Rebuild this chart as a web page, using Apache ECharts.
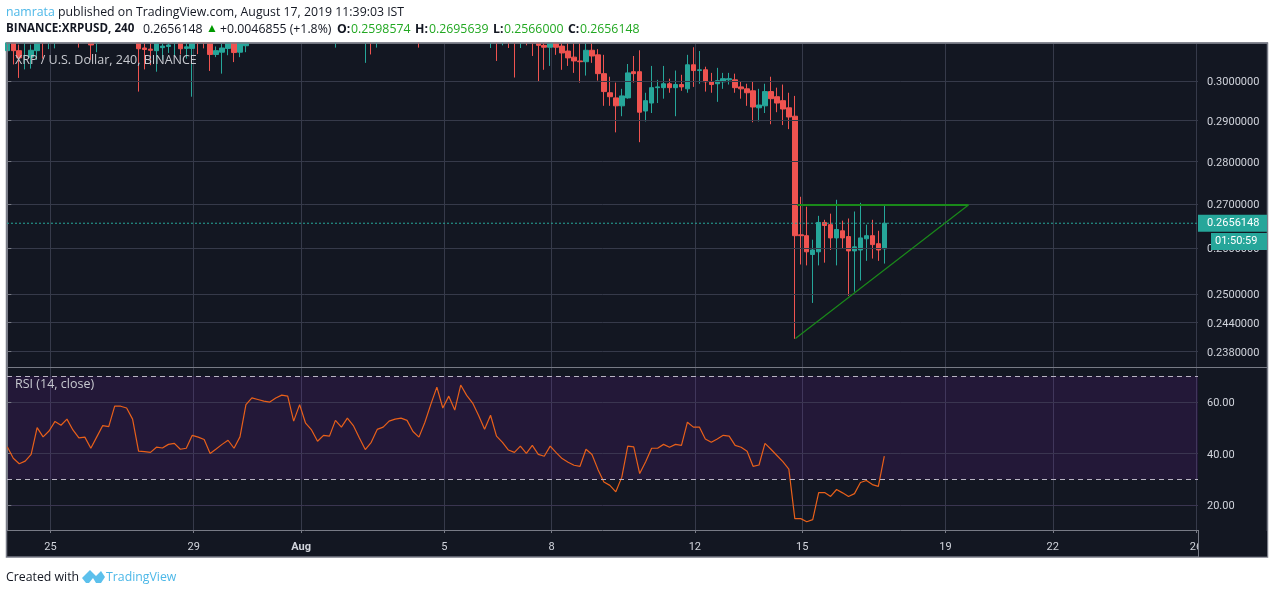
<!DOCTYPE html>
<html><head><meta charset="utf-8">
<style>html,body{margin:0;padding:0;background:#fff}#c{width:1274px;height:594px}</style>
<script src="https://cdn.jsdelivr.net/npm/echarts@6/dist/echarts.min.js"></script>
</head><body><div id="c"></div>
<script>
const opens=[.3079,.3105,.3079,.3105,.3062,.3079,.3110,.3110,.3112,.3118,.3114,.3120,.3116,.3110,.3106,.3100,.3108,.3112,.3118,.3124,.3120,.3117,
.3105,.3086,.3083,.3079,.3087,.3090,.3100,.3105,.3085,.3085,.3108,.3108,.3105,.3069,.3075,.3085,.3105,.3075,.3092,
.3112,.3116,.3122,.3118,.3125,.3121,.3128,.3124,.3119,.3123,.3117,.3113,.3116,.3120,.3114,.3118,.3123,.3119,.3114,.3110,.3115,.3112,.3118,.3122,.3126,.3130,.3127,.3122,.3117,
.3113,.3118,.3124,.3120,.3126,.3122,.3129,.3125,.3121,.3116,.3112,.3110,.3116,.3111,.3114,.3110,.3106,.3112,.3108,
.3100,.3093,.3088,.3100,.3091,.3078,.3062,.3052,.3050,.3080,.3068,.3019,.2970,.2957,.2937,.2957,.3024,.3024,.2924,.2944,.2983,.2983,.2993,.2983,.2991,.2980,.3042,.3027,.3029,.2998,.2993,.2998,.3003,.3003,.2985,.2980,.2975,.2932,.2937,.2973,.2960,.2950,.2932,
.2911,.2630,.2628,.2586,.2592,.2658,.2653,.2623,.2639,.2626,.2594,.2596,.2621,.2628,.2610,.2598574];
const closes=[.3100,.3079,.3060,.3112,.3080,.3105,.3105,.3115,.3118,.3114,.3120,.3116,.3110,.3106,.3094,.3108,.3112,.3118,.3124,.3120,.3117,.3110,
.3084,.3082,.3080,.3105,.3091,.3094,.3105,.3084,.3089,.3105,.3100,.3100,.3069,.3079,.3086,.3105,.3074,.3105,.3105,
.3116,.3122,.3118,.3125,.3121,.3128,.3124,.3119,.3123,.3117,.3113,.3116,.3120,.3114,.3118,.3123,.3119,.3114,.3110,.3115,.3112,.3118,.3122,.3126,.3130,.3127,.3122,.3117,.3113,
.3118,.3124,.3120,.3126,.3122,.3129,.3125,.3121,.3116,.3112,.3110,.3116,.3111,.3114,.3110,.3106,.3112,.3108,.3100,
.3093,.3088,.3100,.3088,.3073,.3060,.3052,.3050,.3080,.3065,.3019,.2973,.2960,.2937,.2962,.3021,.3019,.2921,.2950,.2983,.2985,.2993,.2983,.2991,.2985,.3042,.3027,.3029,.2998,.2991,.3001,.3006,.3006,.2983,.2980,.2970,.2934,.2939,.2973,.2955,.2944,.2929,.2909,
.2628,.2628,.2592,.2596,.2658,.2651,.2623,.2642,.2623,.2594,.2603,.2623,.2628,.2608,.2596,.2656148];
const lows=[.3053,.3043,.3008,.3030,.3032,.3055,.3058,.3083,.3085,.3102,.3105,.3100,.3087,.3100,.3055,.3075,.3101,.3104,.3110,.3106,.3105,.3099,
.2973,.3030,.3041,.3024,.3055,.3073,.3066,.3069,.3058,.2960,.3070,.3085,.3026,.3062,.3019,.3067,.3049,.3062,.3075,
.3105,.3108,.3110,.3112,.3114,.3112,.3116,.3112,.3110,.3109,.3106,.3104,.3108,.3110,.3087,.3108,.3112,.3108,.3104,.3047,.3069,.3087,.3110,.3114,.3118,.3120,.3116,.3112,.3087,
.3106,.3110,.3112,.3114,.3116,.3116,.3118,.3112,.3108,.3104,.3102,.3086,.3052,.3093,.3086,.3009,.3086,.3093,.3065,
.2999,.3029,.3039,.3068,.3029,.3039,.3021,.2996,.3014,.3047,.3001,.2937,.2937,.2871,.2911,.2955,.2996,.2847,.2898,.2919,.2944,.2955,.2970,.2911,.2975,.2970,.2985,.2993,.2973,.2970,.2947,.2980,.2991,.2970,.2955,.2937,.2896,.2898,.2919,.2891,.2921,.2889,.2879,
.2406,.2564,.2562,.2481,.2562,.2568,.2596,.2562,.2599,.2496,.2505,.2529,.2572,.2577,.2572,.2566];
const highs=[.3110,.3120,.3095,.3120,.3095,.3120,.3120,.3125,.3128,.3130,.3132,.3134,.3130,.3120,.3115,.3118,.3125,.3130,.3135,.3132,.3128,.3124,
.3120,.3105,.3100,.3120,.3100,.3105,.3110,.3110,.3100,.3110,.3120,.3120,.3120,.3090,.3097,.3110,.3110,.3110,.3110,
.3125,.3130,.3132,.3134,.3136,.3138,.3136,.3132,.3134,.3130,.3124,.3126,.3130,.3132,.3128,.3130,.3134,.3130,.3124,.3126,.3126,.3128,.3132,.3136,.3140,.3138,.3134,.3130,.3126,
.3128,.3134,.3136,.3138,.3136,.3140,.3138,.3132,.3128,.3124,.3122,.3126,.3124,.3124,.3122,.3118,.3122,.3120,.3114,
.3110,.3105,.3110,.3110,.3105,.3100,.3100,.3100,.3100,.3100,.3083,.3068,.3011,.2996,.2980,.3044,.3065,.3080,.2970,.3039,.3003,.3039,.3006,.3027,.3016,.3068,.3088,.3078,.3037,.3021,.3034,.3021,.3021,.3019,.2998,.2993,.2998,.2980,.2993,.3011,.2983,.2991,.2970,
.2962,.2717,.2694,.2619,.2673,.2664,.2678,.2710,.2662,.2667,.2683,.2703,.2653,.2664,.2639,.2695639];
const rsi=[42.7,38.2,36.1,37.1,39.7,50.1,46.5,48.8,52.5,51.0,53.4,49.2,46.1,46.4,42.1,46.5,50.9,50.5,58.4,58.4,57.7,53.4,41,40.8,40.5,42.5,42.2,43.6,44.0,41.7,42.1,47.1,46.4,45.5,40.1,41.8,43.6,45.2,42.1,46.5,59,61.6,61,60.4,60,61.6,62.7,62.3,52.6,59,51.8,49.2,44.8,47.1,46.8,52.9,50.3,53.8,50.9,46.2,41.6,44.4,49.4,50.3,52.6,53.4,53.8,52.9,48.6,46.4,
52.2,59.2,65.8,57.7,62.3,56.9,66.6,62.6,59.6,54.8,49.5,54.9,46.8,44.4,41.4,40.5,42.9,40.1,43.2,39.7,39,42.9,40.4,38.1,36.7,35.5,35.1,41.7,39.7,33.9,29,27.7,25.2,30.9,42.9,42.6,32.3,36.9,42.1,42.1,43.6,42.5,43.6,43.2,52.2,50.3,50.3,45.7,44.4,45.7,47.1,46.8,43.2,42.5,40.9,35.1,35.6,44,41.7,39.3,36.9,34,14.8,14.8,13.6,14.4,24.9,24.9,23.4,26.1,24.8,23.4,24.5,28.8,29.6,28,27.3,39];

const dayTicks=[7.24,31.24,49.24,73.24,91.24,115.24,133.24,157.24,175.24,199.24];
const dayLabels=['25','29','Aug','5','8','12','15','19','22','26'];
const priceTicks=[.30,.29,.28,.27,.26,.25,.244,.238];
const rsiTicks=[20,40,60];
const lastPrice=.2656148;
const resistanceX=[132.4,161.1], resistanceY=[.2698,.2698];
const supportX=[132.1,161.1], supportY=[.24066,.2698];

const GRID='#363a4a', FRAME='#787b86', TXT='#d1d4dc', UP='#26a69a', DOWN='#ef5350', LINE='#1a8a1a', HEAD='"Open Sans",sans-serif';
const candles=opens.map((o,i)=>[i,o,closes[i],lows[i],highs[i]]);
const L=7,R=1274-1198,XMIN=-0.05,XMAX=199.58;
const yRich={a:{color:TXT,fontFamily:'Roboto',fontSize:11,padding:[3,0,0,0]}};

function xAxis(idx,showLabel){return {type:'value',gridIndex:idx,min:XMIN,max:XMAX,
  axisLine:{show:showLabel,onZero:false,lineStyle:{color:FRAME}},
  axisTick:{show:showLabel,length:3,customValues:dayTicks,lineStyle:{color:FRAME}},
  axisLabel:{show:showLabel,customValues:dayTicks,margin:12,color:TXT,fontFamily:'Roboto',fontSize:11,hideOverlap:false,showMinLabel:true,showMaxLabel:true,
    formatter:v=>{const s=dayLabels[dayTicks.indexOf(v)];return s==='Aug'?'{b|Aug}':s;},rich:{b:{fontWeight:'bold',color:TXT,fontFamily:'Roboto',fontSize:11}}},
  splitLine:{show:true,lineStyle:{color:GRID}}};}

const t=(x,y,text,o)=>({type:'text',x,y,z:60,silent:true,style:Object.assign({x:0,y:0,text,fontFamily:HEAD,fontSize:12.3,fill:'#131722',verticalAlign:'middle'},o||{})});
const bold={fontWeight:'bold'},green={fill:'#22a822'};

const option={animation:false,backgroundColor:'#fff',
 grid:[{left:L,right:R,top:44,height:323},{left:L,right:R,top:367,height:163}],
 xAxis:[xAxis(0,false),xAxis(1,true)],
 yAxis:[
  {type:'log',gridIndex:0,position:'right',min:.23486,max:.30966,z:3,
   axisLine:{show:true,lineStyle:{color:FRAME}},
   axisTick:{show:true,length:4,customValues:priceTicks,lineStyle:{color:FRAME}},
   axisLabel:{customValues:priceTicks,margin:9,color:TXT,fontFamily:'Roboto',fontSize:11,rich:yRich,formatter:v=>'{a|'+(+v).toFixed(7)+'}'},
   splitLine:{show:true,lineStyle:{color:GRID}},minorSplitLine:{show:false}},
  {type:'value',gridIndex:1,position:'right',min:10.4,max:73.6,z:3,
   axisLine:{show:true,lineStyle:{color:FRAME}},
   axisTick:{show:true,length:4,customValues:rsiTicks,lineStyle:{color:FRAME}},
   axisLabel:{customValues:rsiTicks,margin:9,color:TXT,fontFamily:'Roboto',fontSize:11,rich:yRich,formatter:v=>'{a|'+(+v).toFixed(2)+'}'},
   splitLine:{show:true,lineStyle:{color:'#3a3550'}}}
 ],
 series:[
  {type:'candlestick',name:'XRPUSD',xAxisIndex:0,yAxisIndex:0,data:candles,encode:{x:0,y:[1,2,3,4]},barWidth:5,clip:true,
   itemStyle:{color:UP,color0:DOWN,borderColor:UP,borderColor0:DOWN,borderWidth:1}},
  {type:'line',name:'Last price',xAxisIndex:0,yAxisIndex:0,data:[[XMIN,lastPrice],[XMAX,lastPrice]],symbol:'none',z:3,silent:true,
   lineStyle:{color:UP,type:[2,2],width:1},
   endLabel:{show:true,distance:0,formatter:'0.2656148',color:'#fff',backgroundColor:UP,fontFamily:'Roboto',fontSize:11,padding:[3,9,3,9],width:51,height:11,align:'left'}},
  {type:'line',name:'Resistance',xAxisIndex:0,yAxisIndex:0,data:resistanceX.map((x,i)=>[x,resistanceY[i]]),symbol:'none',lineStyle:{color:LINE,width:2},z:4},
  {type:'line',name:'Support',xAxisIndex:0,yAxisIndex:0,data:supportX.map((x,i)=>[x,supportY[i]]),symbol:'none',lineStyle:{color:LINE,width:1.2},z:4},
  {type:'line',name:'RSI',xAxisIndex:1,yAxisIndex:1,data:rsi.map((v,i)=>[i,v]),symbol:'none',lineStyle:{color:'#e8601a',width:1.2},z:4,
   markArea:{silent:true,itemStyle:{color:'rgba(126,36,187,0.15)'},data:[[{yAxis:30},{yAxis:70}]]},
   markLine:{silent:true,symbol:'none',animation:false,label:{show:false},lineStyle:{color:'#b9b4c4',type:[5,4],width:1},data:[{yAxis:70},{yAxis:30}]}}
 ],
 graphic:[
  {type:'rect',z:-10,silent:true,shape:{x:6.5,y:43,width:1261,height:514},style:{fill:'#131722',stroke:FRAME,lineWidth:1.5}},
  {type:'rect',z:40,silent:true,shape:{x:0,y:0,width:1274,height:42.3},style:{fill:'#fff'}},
  {type:'line',z:41,silent:true,shape:{x1:6,y1:43,x2:1268,y2:43},style:{stroke:FRAME,lineWidth:1.5}},
  {type:'rect',z:5,silent:true,shape:{x:1198,y:531,width:69,height:25.5},style:{fill:'#131722'}},
  {type:'line',z:6,silent:true,shape:{x1:1198.5,y1:530,x2:1198.5,y2:557},style:{stroke:FRAME,lineWidth:1}},
  {type:'line',z:6,silent:true,shape:{x1:7,y1:367.5,x2:1267,y2:367.5},style:{stroke:FRAME,lineWidth:1}},
  {type:'rect',z:50,silent:true,shape:{x:1211,y:233,width:56,height:17},style:{fill:UP}},
  t(1215,241.5,'01:50:59',{fontFamily:'Roboto',fontSize:11,fill:'#fff'}),
  t(15,60.5,'XRP / U.S. Dollar, 240, BINANCE',{fill:'#c8cad0',fontSize:12.5}),
  t(15,384.5,'RSI (14, close)',{fill:'#c8cad0',fontSize:12.5}),
  t(6,12,'namrata',{fill:'#4db8e8'}),
  t(58,12,'published on TradingView.com, August 17, 2019 11:39:03 IST'),
  t(6,29,'BINANCE:XRPUSD, 240',{fontWeight:'bold',fontSize:11.6}),
  t(143,29,'0.2656148'),
  t(206,29,'▲',{fill:'#009900',fontSize:12}),
  t(220,29,'+0.0046855 (+1.8%)'),
  t(337,29,'O:',bold),t(351,29,'0.2598574',green),
  t(415,29,'H:',bold),t(429,29,'0.2695639',green),
  t(493,29,'L:',bold),t(504,29,'0.2566000',green),
  t(568,29,'C:',bold),t(580,29,'0.2656148',green),
  t(6,577,'Created with'),
  {type:'polygon',z:60,silent:true,shape:{points:[[82,578],[90,570],[96,576],[101,571],[105,577],[101,583],[96,583],[93,578],[89,583],[86,583]]},style:{fill:'#5cc0ec'}},
  t(106,577,'TradingView',{fill:'#4db8e8'})
 ]
};
const chart=echarts.init(document.getElementById('c'),null,{renderer:'canvas'});
chart.setOption(option);
</script></body></html>
